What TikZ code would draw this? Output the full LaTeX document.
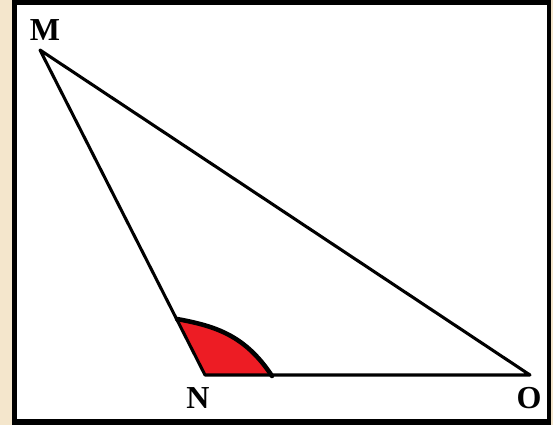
\documentclass[tikz,border=0pt]{standalone}
\usepackage{fontspec}
\setmainfont{Liberation Serif}
\definecolor{beige}{HTML}{F4E6CC}
\definecolor{anglered}{HTML}{ED1C24}
\begin{document}
\begin{tikzpicture}[x=0.75pt,y=-0.75pt,
  side/.style={line width=2.3pt,line cap=round,line join=round},
  lbl/.style={font=\fontsize{24}{24}\selectfont\bfseries,inner sep=0pt}]
\useasboundingbox (0,0) rectangle (553,425);
\fill[beige] (0,0) rectangle (553,425);
\fill[black] (12,0) rectangle (551,425);
\fill[white] (17,5) rectangle (547,419);
\coordinate (M) at (40,50);
\coordinate (N) at (205,375);
\coordinate (O) at (530,375);
\coordinate (A) at (177,319);
\coordinate (B) at (272,376);
\fill[anglered] (N) -- (A) .. controls (215,326) and (245,335) .. (B) -- cycle;
\draw[line width=3.4pt,line cap=round] (A) .. controls (215,326) and (245,335) .. (B);
\draw[side] (M) -- (N) -- (O) -- cycle;
\node[lbl] (lM) at (45,30) {M};
\node[lbl] (lN) at (198,398) {N};
\node[lbl] (lO) at (529,398) {O};
\end{tikzpicture}
\end{document}
